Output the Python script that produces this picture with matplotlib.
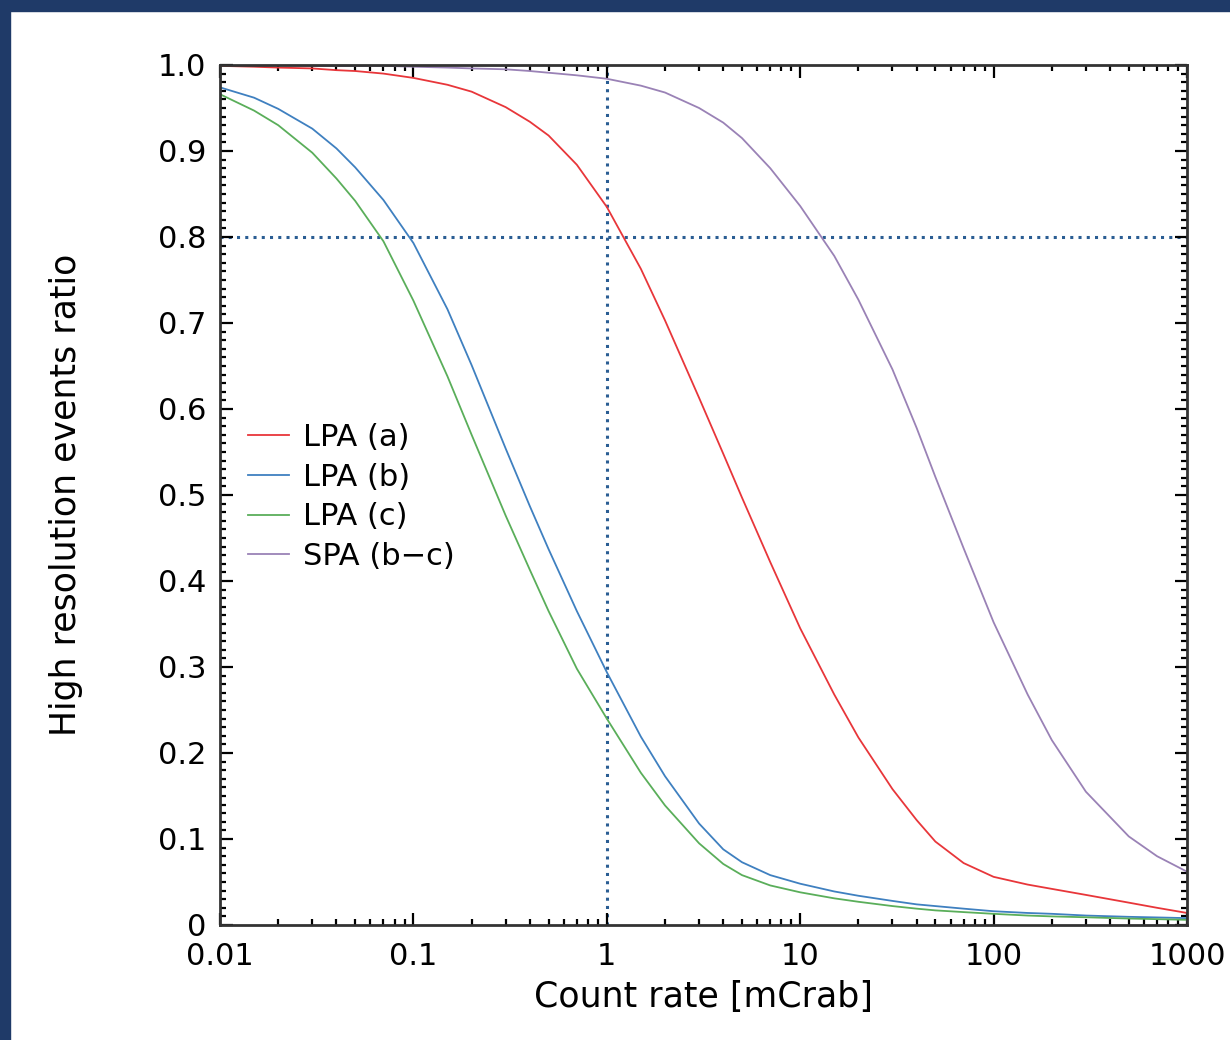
import matplotlib
matplotlib.use("Agg")
import matplotlib.pyplot as plt
from matplotlib.patches import Rectangle
from matplotlib.ticker import FixedLocator, MultipleLocator, LogLocator, NullFormatter, FuncFormatter

# count rate [mCrab]
rate = [0.01, 0.015, 0.02, 0.03, 0.04, 0.05, 0.07, 0.1, 0.15, 0.2, 0.3, 0.4, 0.5, 0.7,
        1, 1.5, 2, 3, 4, 5, 7, 10, 15, 20, 30, 40, 50, 70, 100, 150, 200, 300, 500, 700, 1000]

lpa_a = [0.999, 0.998, 0.997, 0.996, 0.994, 0.993, 0.990, 0.985, 0.977, 0.969, 0.951, 0.934,
         0.918, 0.884, 0.835, 0.763, 0.703, 0.613, 0.548, 0.497, 0.422, 0.345, 0.268, 0.218,
         0.158, 0.122, 0.097, 0.072, 0.056, 0.047, 0.042, 0.035, 0.026, 0.020, 0.014]
lpa_b = [0.974, 0.962, 0.949, 0.926, 0.903, 0.881, 0.843, 0.793, 0.716, 0.651, 0.554, 0.487,
         0.437, 0.365, 0.294, 0.219, 0.173, 0.118, 0.088, 0.073, 0.058, 0.048, 0.039, 0.034,
         0.028, 0.024, 0.022, 0.019, 0.016, 0.014, 0.013, 0.011, 0.0095, 0.0088, 0.008]
lpa_c = [0.966, 0.947, 0.930, 0.898, 0.868, 0.842, 0.795, 0.726, 0.638, 0.570, 0.476, 0.413,
         0.365, 0.298, 0.240, 0.177, 0.139, 0.095, 0.071, 0.058, 0.046, 0.038, 0.031, 0.027,
         0.022, 0.019, 0.017, 0.015, 0.013, 0.011, 0.010, 0.009, 0.0075, 0.0068, 0.006]
spa_bc = [1.000, 1.000, 1.000, 0.999, 0.999, 0.999, 0.999, 0.998, 0.997, 0.996, 0.995, 0.993,
          0.991, 0.988, 0.984, 0.976, 0.968, 0.950, 0.933, 0.915, 0.880, 0.836, 0.778, 0.727,
          0.646, 0.578, 0.521, 0.438, 0.352, 0.268, 0.215, 0.155, 0.103, 0.080, 0.062]

x_ticks = [0.01, 0.1, 1, 10, 100, 1000]
x_tick_labels = ["0.01", "0.1", "1", "10", "100", "1000"]

fig = plt.figure(figsize=(12.3, 10.4), dpi=100)
plt.rcParams['font.family'] = ['DejaVu Sans']

# navy frame along top and left edges
navy = "#1f3a68"
fig.patches.append(Rectangle((0, 1 - 11 / 1040), 1, 11 / 1040, transform=fig.transFigure,
                             color=navy, zorder=0))
fig.patches.append(Rectangle((0, 0), 10 / 1230, 1, transform=fig.transFigure,
                             color=navy, zorder=0))

ax = fig.add_axes([220 / 1230, 115 / 1040, 967 / 1230, 860 / 1040])

ax.plot(rate, lpa_a, color="#e8363a", lw=1.3, label="LPA (a)")
ax.plot(rate, lpa_b, color="#3f80c0", lw=1.3, label="LPA (b)")
ax.plot(rate, lpa_c, color="#5aae5a", lw=1.3, label="LPA (c)")
ax.plot(rate, spa_bc, color="#9a82b6", lw=1.3, label="SPA (b\u2212c)")

dot_color = "#2a5d93"
ax.plot([1, 1], [0, 1], color=dot_color, lw=2.2, ls=(0, (1, 1.7)), zorder=1)
ax.plot([0.01, 1000], [0.8, 0.8], color=dot_color, lw=2.2, ls=(0, (1, 1.7)), zorder=1)

ax.set_xscale("log")
ax.set_xlim(0.01, 1000)
ax.set_ylim(0, 1.0)

ax.xaxis.set_major_locator(FixedLocator(x_ticks))
ax.set_xticklabels(x_tick_labels)
ax.xaxis.set_minor_locator(LogLocator(base=10, subs=range(2, 10), numticks=20))
ax.xaxis.set_minor_formatter(NullFormatter())
ax.yaxis.set_major_locator(MultipleLocator(0.1))
ax.yaxis.set_minor_locator(MultipleLocator(0.01))
ax.yaxis.set_major_formatter(FuncFormatter(lambda v, p: "0" if abs(v) < 1e-9 else f"{v:.1f}"))

ax.tick_params(which="both", direction="in", top=True, right=True, width=1.6, colors="black")
ax.tick_params(which="major", length=9, labelsize=22)
ax.tick_params(which="minor", length=4)
ax.tick_params(axis="y", pad=10)
ax.tick_params(axis="x", pad=12)
for s in ax.spines.values():
    s.set_linewidth(2)
    s.set_color("#333333")

ax.set_xlabel("Count rate [mCrab]", fontsize=25, labelpad=7)
ax.set_ylabel("High resolution events ratio", fontsize=25, labelpad=54)

ax.legend(loc="upper left", bbox_to_anchor=(0.016, 0.598), borderaxespad=0, frameon=False,
          fontsize=22, handlelength=1.35, handletextpad=0.45, labelspacing=0.35)

fig.savefig("out.png", dpi=100)
